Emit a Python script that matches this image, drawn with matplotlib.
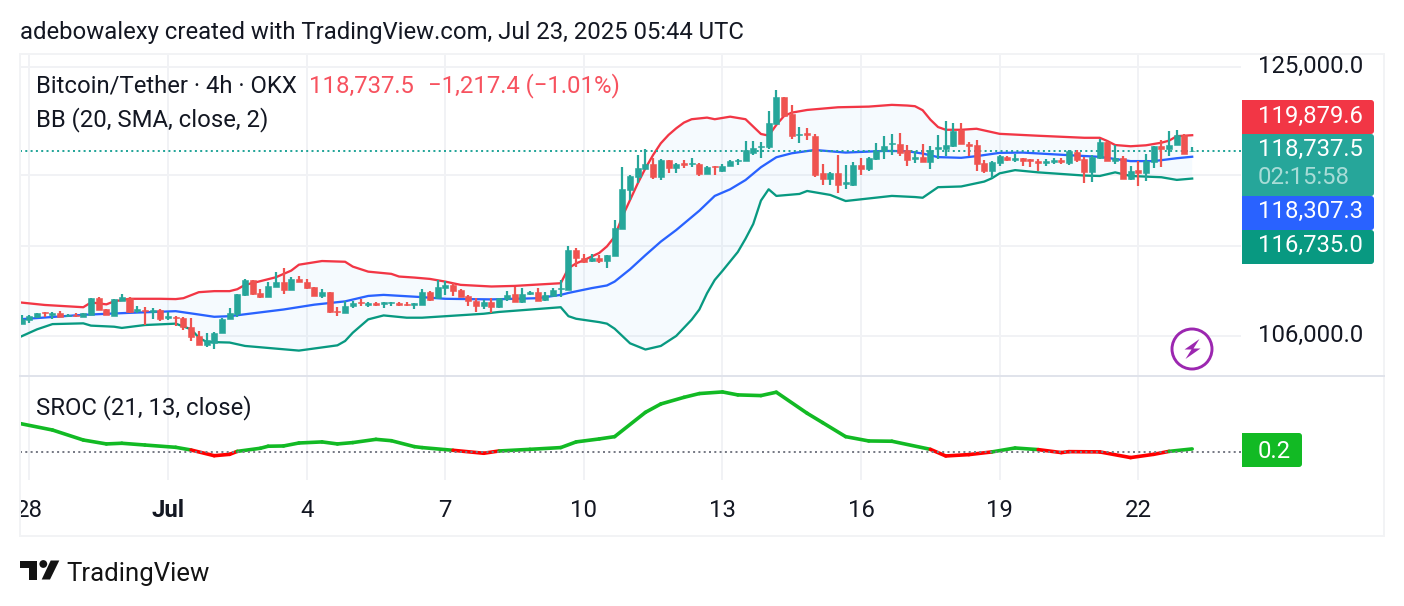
import numpy as np
import matplotlib
matplotlib.use("Agg")
import matplotlib.pyplot as plt
from matplotlib.patches import Circle, FancyBboxPatch, Polygon, Rectangle
from matplotlib.ticker import NullLocator
from matplotlib.transforms import ScaledTranslation

plt.rcParams['font.family'] = ['Roboto', 'DejaVu Sans']

# 4h BTC/USDT candles, oldest first
opens = [
    106750, 107030, 107230, 107570, 107340, 107470, 107320, 107380, 107230, 107360,
    108500, 107790, 107320, 108310, 108500, 107600, 107730, 107570, 107730, 107160,
    107250, 107190, 106600, 106000, 105390, 105570, 106170, 107080, 107420, 108700,
    109680, 108810, 108590, 109240, 109550, 109040, 109770, 109550, 109240, 108610,
    108900, 107660, 107470, 107940, 108250, 108050, 108180, 108110, 108140, 108160,
    108110, 108030, 108050, 108900, 108480, 109190, 109370, 109040, 108630, 108310,
    107990, 108250, 107880, 108420, 108750, 108200, 108750, 108880, 108330, 108610,
    109080, 109040, 111710, 111180, 111000, 111180, 111000, 111340, 113210, 115920,
    116820, 117420, 117790, 116870, 118050, 117520, 117880, 117760, 117790, 117070,
    117620, 117300, 117640, 118000, 118000, 118580, 118990, 118990, 120710, 122700,
    121450, 119900, 120020, 119830, 117120, 116730, 117120, 116370, 116280, 117690,
    117420, 118120, 118700, 119210, 119240, 118800, 118120, 118300, 117940, 118880,
    118850, 119090, 120230, 119260, 119140, 117840, 117270, 117820, 118300, 118060,
    118250, 118110, 117990, 117820, 117920, 118060, 117820, 118640, 118160, 117230,
    118230, 119360, 117990, 118250, 116730, 117320, 117160, 117940, 119120, 118850,
    119190, 119930, 118690]
highs = [
    107340, 107340, 107510, 107570, 107570, 107600, 107420, 107510, 107470, 108500,
    108550, 107790, 108440, 108770, 108550, 107990, 107900, 107860, 107770, 107570,
    107270, 107210, 107190, 106300, 106170, 106240, 107190, 107830, 108770, 109770,
    109710, 109080, 109530, 110220, 110510, 109910, 109950, 109750, 109260, 109080,
    108920, 107900, 108270, 108270, 108420, 108220, 108250, 108250, 108220, 108220,
    108250, 108160, 109100, 108970, 109700, 109660, 109480, 109080, 108700, 108480,
    108330, 108480, 108480, 108950, 109260, 109150, 108970, 109150, 108920, 109150,
    109700, 111980, 111890, 111490, 111440, 111380, 111380, 113810, 117550, 117000,
    118440, 118850, 118200, 118120, 118080, 117840, 118080, 118200, 117840, 117640,
    117640, 117760, 118050, 118120, 119430, 119460, 119380, 121650, 123250, 122700,
    122120, 120490, 120390, 119970, 117790, 117240, 118410, 117710, 117910, 118200,
    118320, 119290, 119830, 120000, 120050, 119160, 118750, 119210, 119070, 119860,
    120900, 120760, 120760, 119400, 119500, 118060, 118010, 118420, 118350, 118540,
    118250, 118110, 118110, 118130, 118200, 118230, 118780, 118780, 118300, 118420,
    119620, 119450, 119190, 118350, 117630, 118010, 118540, 119120, 119550, 120160,
    120230, 119980, 118990]
lows = [
    106750, 106820, 107190, 107250, 107080, 107210, 107230, 107210, 107230, 107360,
    107680, 107340, 107270, 108270, 107470, 107470, 106730, 107120, 106950, 107060,
    106620, 106360, 105650, 105390, 105280, 105130, 106170, 107080, 107250, 108630,
    108700, 108500, 108550, 109240, 108770, 109040, 109530, 109100, 108630, 108480,
    107510, 107270, 107470, 107810, 107990, 107880, 107990, 107860, 107940, 107960,
    107990, 107790, 108050, 108310, 108480, 108700, 108630, 108590, 107990, 107550,
    107790, 107510, 107830, 108290, 108200, 108160, 108660, 108310, 108310, 108610,
    108530, 109040, 110600, 110820, 110930, 110860, 110530, 111340, 113210, 115210,
    116440, 117400, 116700, 116630, 117160, 117160, 117520, 117590, 116920, 117070,
    117000, 117210, 117640, 117710, 118000, 118410, 118240, 118900, 120710, 121300,
    119630, 119290, 119530, 116870, 116300, 116280, 115730, 116020, 116210, 116990,
    117300, 118080, 118170, 118460, 118370, 117640, 117840, 117940, 117420, 118110,
    118350, 119020, 119210, 118350, 117300, 117160, 116760, 117650, 118010, 117920,
    117650, 117580, 117300, 117650, 117770, 117770, 117700, 117920, 116450, 116520,
    118110, 117990, 117750, 116690, 116640, 116170, 116590, 117510, 117580, 118370,
    119140, 118520, 118660]
closes = [
    107120, 107320, 107510, 107490, 107490, 107230, 107380, 107320, 107470, 108500,
    107730, 107340, 108400, 108530, 107550, 107750, 107600, 107730, 107080, 107290,
    107190, 106600, 105910, 105390, 105740, 106210, 107080, 107530, 108770, 109710,
    108770, 108550, 109300, 109570, 109040, 109770, 109530, 109170, 108630, 108900,
    107550, 107550, 107960, 108180, 108140, 108160, 108050, 108220, 108220, 108010,
    108010, 108160, 108880, 108370, 109240, 109370, 108970, 108590, 108270, 107990,
    108250, 107900, 108480, 108720, 108200, 108790, 108900, 108310, 108680, 109040,
    109150, 111710, 111180, 110930, 111180, 111000, 111380, 113250, 115970, 116920,
    117470, 117790, 116820, 118080, 117520, 117760, 117710, 117860, 117040, 117570,
    117550, 117670, 118000, 118080, 118770, 118940, 119110, 120760, 122700, 121300,
    119830, 120000, 119900, 116990, 116680, 117120, 116250, 116490, 117690, 117420,
    118220, 118700, 119090, 119310, 118610, 118080, 118270, 117940, 118830, 119000,
    119140, 120160, 119210, 119090, 117770, 117270, 117940, 118350, 118060, 118250,
    118010, 118010, 117820, 118010, 118060, 117920, 118730, 118060, 117180, 118300,
    119360, 118010, 118250, 116710, 117300, 117160, 117990, 119120, 118850, 119190,
    119910, 118540, 118737.5]

# Bollinger bands, as (bar, price) vertices
upper_bars = [-1, 3, 6, 8, 9, 11, 12, 14, 18, 20, 21, 23, 25, 27, 28, 29, 31, 33, 35, 36,
              39, 42, 43, 45, 48, 49, 51, 53, 55, 57, 61, 64, 70, 71, 72, 73, 75, 76, 77, 78,
              79, 80, 81, 82, 83, 84, 85, 86, 87, 89, 90, 92, 94, 96, 97, 98, 99, 100, 102, 106,
              110, 113, 115, 116, 117, 118, 119, 120, 122, 124, 127, 132, 138, 140, 141, 142,
              144, 146, 148, 149, 150, 152]
upper = [108240, 108030, 107940, 107880, 108200, 108070, 108270, 108440, 108440, 108420,
         108480, 108880, 108950, 108950, 109080, 109370, 109620, 109880, 110330, 110730,
         110980, 110930, 110600, 110260, 110110, 109930, 109860, 109770, 109590, 109370,
         109260, 109300, 109480, 110490, 110820, 111040, 111530, 111980, 112650, 114040,
         115210, 116390, 117470, 118440, 119290, 119900, 120390, 120810, 121060, 121180,
         121060, 121250, 121060, 119970, 119850, 120640, 121300, 121550, 121750, 121950,
         122000, 122130, 122080, 122030, 121730, 121030, 120480, 120280, 120280, 120355,
         119980, 119840, 119690, 119690, 119450, 119160, 119070, 119140, 119330, 119480,
         119810, 119879.6]
mid_bars = [-1, 8, 14, 20, 23, 25, 27, 34, 38, 42, 45, 47, 52, 55, 61, 67, 70, 71, 74, 76,
            77, 79, 81, 83, 85, 88, 90, 92, 94, 96, 98, 100, 103, 107, 112, 115, 117, 119,
            122, 124, 127, 130, 136, 140, 144, 147, 150, 152]
mid = [107060, 107380, 107510, 107620, 107400, 107250, 107290, 107730, 108050, 108270,
       108630, 108700, 108550, 108440, 108400, 108480, 108700, 108830, 109150, 109330,
       109590, 110420, 111380, 112310, 113110, 114460, 115500, 115970, 116630, 117550,
       118270, 118560, 118800, 118610, 118730, 118710, 118540, 118280, 118230, 118350,
       118590, 118610, 118420, 118300, 117990, 117990, 118200, 118307.3]
lower_bars = [-1, 0, 2, 4, 8, 9, 12, 13, 16, 20, 22, 23, 24, 27, 29, 36, 41, 42, 43, 45,
              47, 50, 52, 60, 62, 70, 71, 72, 75, 76, 77, 79, 81, 83, 85, 87, 88, 89, 90,
              91, 93, 94, 95, 96, 97, 98, 101, 102, 105, 107, 113, 116, 117, 119, 122, 125,
              126, 127, 129, 132, 138, 140, 142, 144, 148, 150, 152]
lower = [105760, 105980, 106430, 106770, 106820, 106670, 106600, 106520, 106710, 106800,
         106430, 105890, 105610, 105570, 105350, 105050, 105390, 105670, 106210, 107080,
         107340, 107190, 107190, 107450, 107570, 107880, 107290, 107120, 106900, 106800,
         106470, 105520, 105120, 105350, 106000, 107060, 107730, 108810, 109700, 110310,
         111600, 112510, 113530, 115170, 115970, 115500, 115640, 115850, 115570, 115140,
         115500, 115420, 115370, 116120, 116170, 116520, 116760, 117110, 117340, 117180,
         116950, 116920, 117180, 116920, 116830, 116640, 116735.0]
last_price = 118737.5

# SROC oscillator vertices and the bar ranges where it is drawn red
sroc_bars = [-1, 4, 8, 11, 13, 16, 20, 22, 25, 27, 28, 31, 32, 34, 36, 39, 41, 43, 46, 48,
             51, 52, 56, 60, 62, 66, 70, 72, 75, 77, 81, 83, 86, 88, 91, 93, 96, 98, 102,
             104, 107, 110, 113, 118, 120, 123, 126, 129, 132, 135, 136, 140, 144, 147, 149, 152]
sroc = [2.17, 1.60, 0.86, 0.57, 0.62, 0.49, 0.32, 0.12, -0.30, -0.20, 0.02, 0.25, 0.40, 0.42,
        0.64, 0.72, 0.57, 0.67, 0.91, 0.81, 0.37, 0.30, 0.10, -0.12, 0.05, 0.17, 0.30, 0.72,
        0.94, 1.11, 2.91, 3.53, 4.02, 4.30, 4.42, 4.20, 4.15, 4.40, 2.84, 2.15, 1.11, 0.79,
        0.77, 0.17, -0.32, -0.22, -0.02, 0.27, 0.15, -0.07, 0.0, -0.02, -0.44, -0.20, 0.02, 0.2]
red_spans = [(22, 28), (56, 62), (118, 126), (132, 149)]

# price and time scales
price_ticks = [125000, 117000, 112000, 106000]
price_labels = ['125,000.0', '', '', '106,000.0']
time_ticks = [1, 19, 37, 55, 73, 91, 109, 127, 145]
time_labels = ['28', 'Jul', '4', '7', '10', '13', '16', '19', '22']

INK = '#131722'
UP = '#26a69a'
DOWN = '#ef5350'
GRID = '#f1f2f5'
W, H = 1404, 606
FS = 17.2


def px_axes(fig, x0, y0, x1, y1, **kw):
    # axes placed by pixel box, y measured from the top
    return fig.add_axes([x0 / W, 1 - y1 / H, (x1 - x0) / W, (y1 - y0) / H], **kw)


fig = plt.figure(figsize=(W / 100, H / 100), dpi=100, facecolor='white')

# price pane
ax = px_axes(fig, 20, 54, 1241, 375)
ax.set_yscale('log')
ax.set_xlim(-0.22, 158.34)
ax.set_ylim(103490, 125999)
ax.yaxis.tick_right()
ax.yaxis.set_minor_locator(NullLocator())
ax.set_yticks(price_ticks)
ax.set_yticklabels(price_labels)
ax.set_xticks(time_ticks)
ax.set_xticklabels([])
ax.tick_params(length=0)
ax.tick_params(axis='y', labelsize=FS, labelcolor=INK, pad=12.2)
ax.grid(True, color=GRID, lw=1.44)
ax.set_axisbelow(True)
for s in ax.spines.values():
    s.set_visible(False)
# sit the price labels on a baseline just below their grid line
for lbl in ax.get_yticklabels():
    lbl.set_va('baseline')
    lbl.set_transform(lbl.get_transform() + ScaledTranslation(0, -0.057, fig.dpi_scale_trans))

ax.fill(upper_bars + lower_bars[::-1], upper + lower[::-1], color='#2196f3', alpha=0.045, lw=0, zorder=1)
ax.plot(upper_bars, upper, color='#f23645', lw=1.65, zorder=2)
ax.plot(mid_bars, mid, color='#2962ff', lw=1.65, zorder=2)
ax.plot(lower_bars, lower, color='#089981', lw=1.65, zorder=2)
ax.axhline(last_price, color=UP, lw=1.44, ls=(0, (1, 1.65)), zorder=2.5)

x = np.arange(len(closes))
o = np.array(opens, dtype=float)
c = np.array(closes, dtype=float)
colors = [UP if b >= a else DOWN for a, b in zip(o, c)]
ax.vlines(x, lows, highs, colors=colors, lw=1.6, zorder=3)
ax.bar(x, np.abs(c - o), bottom=np.minimum(o, c), width=0.78, color=colors,
       edgecolor=colors, lw=0.4, zorder=3)

# oscillator pane
ax2 = px_axes(fig, 20, 376, 1241, 480)
ax2.set_xlim(-0.22, 158.34)
ax2.set_ylim(-2.1, 5.6)
ax2.set_yticks([])
ax2.set_xticks(time_ticks)
ax2.set_xticklabels(time_labels)
ax2.tick_params(length=0, labelsize=FS, labelcolor=INK, pad=13.5)
ax2.get_xticklabels()[1].set_fontweight('bold')
ax2.grid(True, axis='x', color=GRID, lw=1.44)
ax2.set_axisbelow(True)
for s in ax2.spines.values():
    s.set_visible(False)

for k in range(len(sroc) - 1):
    in_red = any(a <= sroc_bars[k] and sroc_bars[k + 1] <= b for a, b in red_spans)
    ax2.plot(sroc_bars[k:k + 2], sroc[k:k + 2], color='#ff0000' if in_red else '#12ba24',
             lw=2.6, solid_capstyle='round', zorder=2)
ax2.axhline(0, color='#787b86', lw=1.44, ls=(0, (1, 1.65)), zorder=3)

# labels, frame and badges on a full-figure pixel layer
ov = fig.add_axes([0, 0, 1, 1])
ov.set_xlim(0, W)
ov.set_ylim(H, 0)
ov.axis('off')

ov.add_patch(Rectangle((0, 480), 19.5, 50, fc='white', ec='none'))
ov.add_patch(Rectangle((20, 54), 1364, 482, fc='none', ec='#f2f3f5', lw=1.44))
ov.plot([20, 1384], [375.5, 375.5], color='#e0e3eb', lw=1.44)

ov.text(20, 38.5, 'adebowalexy created with TradingView.com, Jul 23, 2025 05:44 UTC',
        fontsize=FS, color=INK, va='baseline')
ov.text(36, 92.7, 'Bitcoin/Tether · 4h · OKX', fontsize=FS, color=INK, va='baseline')
ov.text(309, 92.7, '118,737.5', fontsize=FS, color='#f7525f', va='baseline')
ov.text(428, 92.7, '\u22121,217.4 (\u22121.01%)', fontsize=FS, color='#f7525f', va='baseline')
ov.text(36, 126.7, 'BB (20, SMA, close, 2)', fontsize=FS, color=INK, va='baseline')
ov.text(36, 414.3, 'SROC (21, 13, close)', fontsize=FS, color=INK, va='baseline')

badges = [(100, 134, '#f23645'), (134, 196, UP), (196, 230, '#2962ff'), (230, 264, '#089981')]
for y0, y1, col in badges:
    ov.add_patch(FancyBboxPatch((1242, y0), 132, y1 - y0, boxstyle='round,pad=0,rounding_size=3',
                                fc=col, ec='none'))
    ov.add_patch(Rectangle((1242, y0), 10, y1 - y0, fc=col, ec='none'))
ov.add_patch(FancyBboxPatch((1242, 433), 60, 34, boxstyle='round,pad=0,rounding_size=3',
                            fc='#12ba24', ec='none'))
ov.add_patch(Rectangle((1242, 433), 10, 34, fc='#12ba24', ec='none'))

for y, txt, col in [(122.7, '119,879.6', 'white'), (156.3, '118,737.5', 'white'), (184.3, '02:15:58', '#a8dcd7'),
                    (218.3, '118,307.3', 'white'), (252.3, '116,735.0', 'white'), (458.3, '0.2', 'white')]:
    ov.text(1258, y, txt, fontsize=FS, color=col, va='baseline')

# lightning badge
ov.add_patch(Circle((1192, 349), 20, fc='white', ec='#9c27b0', lw=2.1))
bolt = [(1199.5, 339), (1184.5, 349.5), (1191.5, 349.5), (1185.5, 359), (1200.5, 348.5), (1193.5, 348.5)]
ov.add_patch(Polygon(bolt, closed=True, fc='#9c27b0', ec='none'))

# TradingView mark
ov.add_patch(Polygon([(20, 560.5), (37.3, 560.5), (37.3, 579.5), (29.3, 579.5), (29.3, 568), (20, 568)],
                     closed=True, fc='#131313', ec='none'))
ov.add_patch(Circle((43.3, 564), 3.9, fc='#131313', ec='none'))
ov.add_patch(Polygon([(59.3, 560.5), (50, 579.5), (41.7, 579.5), (50.7, 560.5)], closed=True,
                     fc='#131313', ec='none'))
ov.text(66, 581, 'TradingView', fontsize=18.5, color='#131313', va='baseline')

fig.savefig('out.png', dpi=100)
